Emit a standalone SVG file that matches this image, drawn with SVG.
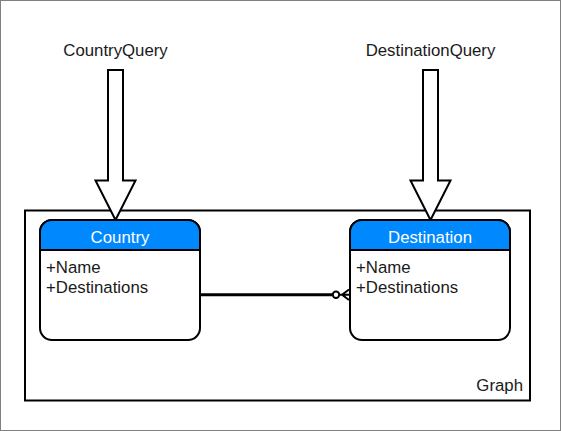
<svg xmlns="http://www.w3.org/2000/svg" width="561" height="431" viewBox="0 0 561 431">
<style>
  text { font-family: "Liberation Sans", Arial, sans-serif; font-size: 16.8px; fill: #1a1a1a; }
  .hdr { fill: #ffffff; text-anchor: middle; }
  .lbl { text-anchor: middle; }
  .box { fill: #ffffff; stroke: #000000; stroke-width: 2; }
  .head { fill: #0088ff; stroke: #000000; stroke-width: 2; }
  .bigarrow { fill: #ffffff; stroke: #000000; stroke-width: 2; stroke-linejoin: miter; }
  .conn { fill: none; stroke: #000000; stroke-width: 3; }
</style>
<rect x="0" y="0" width="561" height="431" fill="#ffffff"/>
<rect x="0.5" y="0.5" width="560" height="430" fill="none" stroke="#808080" stroke-width="1"/>

<g id="graph">
  <rect x="25" y="210.5" width="505" height="190" fill="#ffffff" stroke="#000000" stroke-width="2"/>
  <text x="523" y="391" text-anchor="end">Graph</text>
</g>

<g id="country-query">
  <text class="lbl" x="115.5" y="56">CountryQuery</text>
  <path class="bigarrow" d="M108,70 H123 V180.5 H135.5 L115.5,220 L95.5,180.5 H108 Z"/>
</g>

<g id="destination-query">
  <text class="lbl" x="430.5" y="56">DestinationQuery</text>
  <path class="bigarrow" d="M423,70 H438 V180.5 H450.5 L430.5,220 L410.5,180.5 H423 Z"/>
</g>

<g id="country">
  <rect class="box" x="40" y="220" width="160" height="120" rx="12" ry="12"/>
  <path class="head" d="M40,250 V232 A12,12 0 0 1 52,220 H188 A12,12 0 0 1 200,232 V250 Z"/>
  <text class="hdr" x="120" y="243">Country</text>
  <text x="46" y="273">+Name</text>
  <text x="46" y="293">+Destinations</text>
</g>

<g id="destination">
  <rect class="box" x="350" y="220" width="160" height="120" rx="12" ry="12"/>
  <path class="head" d="M350,250 V232 A12,12 0 0 1 362,220 H498 A12,12 0 0 1 510,232 V250 Z"/>
  <text class="hdr" x="430" y="243">Destination</text>
  <text x="356" y="273">+Name</text>
  <text x="356" y="293">+Destinations</text>
</g>

<g id="connectors">
  <line class="conn" x1="201" y1="294.8" x2="332" y2="294.8"/>
  <circle cx="336" cy="294.8" r="3.2" fill="#ffffff" stroke="#000000" stroke-width="2"/>
  <path d="M339.5,294.8 H349 M342,294.8 L349,289.5 M342,294.8 L349,300" fill="none" stroke="#000000" stroke-width="2"/>
</g>
</svg>
